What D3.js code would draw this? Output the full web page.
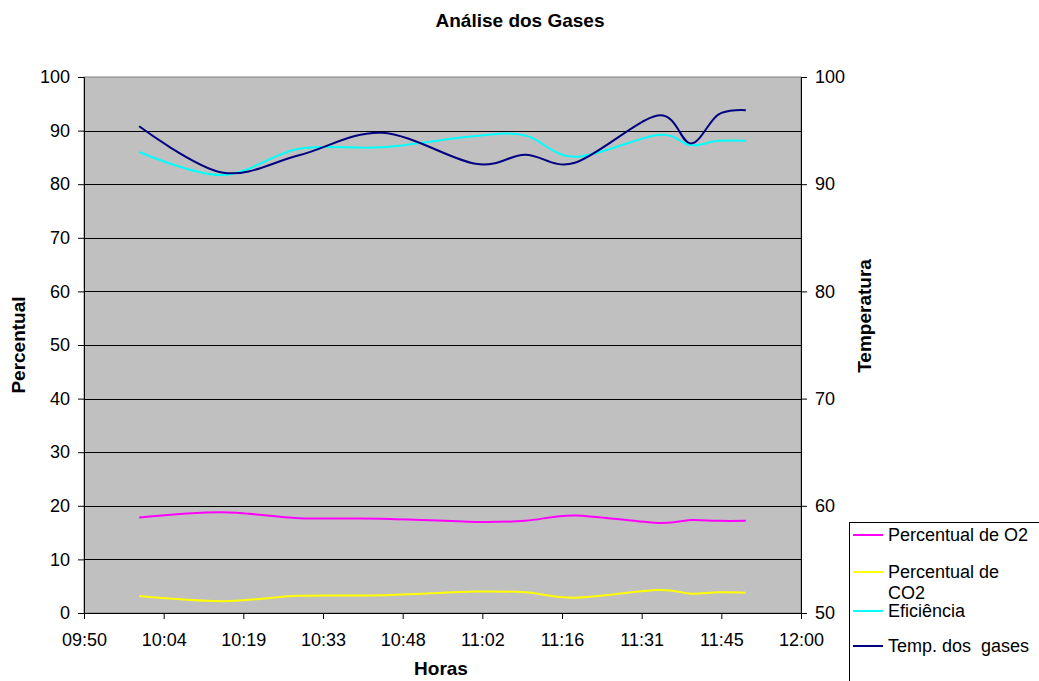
<!DOCTYPE html>
<html lang="pt">
<head>
  <meta charset="UTF-8">
  <title>Análise dos Gases</title>
  <style>
    body { margin: 0; background: #fff; }
    svg { display: block; font-family: Arial, "Liberation Sans", sans-serif; }
    .axis path, .axis line { stroke: #000; }
    .axis text { font-size: 18px; fill: #000; }
    .grid line { stroke: #000; stroke-width: 1; }
    .series { fill: none; stroke-width: 2; }
    .ttl { font-weight: bold; font-size: 19px; }
    .legend text { font-size: 18px; }
  </style>
</head>
<body>
  <script src="https://d3js.org/d3.v7.min.js"></script>
  <script>
    // leituras (hora da medição)
    const times = ['10:00', '10:15', '10:29', '10:44', '11:01', '11:10', '11:19', '11:34', '11:40', '11:45', '11:50'];
    const o2 = [17.8, 18.8, 17.7, 17.6, 17.0, 17.2, 18.2, 16.8, 17.35, 17.2, 17.2];
    const co2 = [3.15, 2.2, 3.2, 3.3, 4.0, 3.85, 2.85, 4.3, 3.6, 3.85, 3.8];
    const eficiencia = [86.0, 81.7, 86.6, 86.9, 89.0, 89.1, 85.1, 89.2, 87.3, 88.1, 88.1];
    const tempGases = [95.4, 91.1, 92.7, 94.8, 91.9, 92.75, 92.0, 96.4, 93.8, 96.5, 96.9];

    const xTickLabels = ['09:50', '10:04', '10:19', '10:33', '10:48', '11:02', '11:16', '11:31', '11:45', '12:00'];
    const leftTicks = [0, 10, 20, 30, 40, 50, 60, 70, 80, 90, 100];
    const rightTicks = [50, 60, 70, 80, 90, 100];

    const W = 1039, H = 681;
    const plot = {left: 84, right: 801, top: 77, bottom: 613};

    const parse = d3.timeParse('%H:%M');
    const t0 = parse('09:50'), t1 = parse('12:00');

    const svg = d3.select('body').append('svg')
      .attr('width', W)
      .attr('height', H);

    const x = d3.scaleTime().domain([t0, t1]).range([plot.left, plot.right]);
    const yL = d3.scaleLinear().domain([0, 100]).range([plot.bottom, plot.top]);
    const yR = d3.scaleLinear().domain([50, 100]).range([plot.bottom, plot.top]);

    // plot background
    svg.append('rect')
      .attr('x', plot.left).attr('y', plot.top)
      .attr('width', plot.right - plot.left)
      .attr('height', plot.bottom - plot.top)
      .attr('fill', '#c0c0c0')
      .attr('stroke', '#808080');

    // gridlines
    svg.append('g').attr('class', 'grid')
      .selectAll('line')
      .data(leftTicks.filter(d => d > 0 && d < 100))
      .join('line')
        .attr('x1', plot.left).attr('x2', plot.right)
        .attr('y1', d => Math.round(yL(d)) + 0.5)
        .attr('y2', d => Math.round(yL(d)) + 0.5);

    // axes
    const xTicks = xTickLabels.map((l, i) => new Date(+t0 + i * (t1 - t0) / (xTickLabels.length - 1)));
    svg.append('g').attr('class', 'axis')
      .attr('transform', `translate(0,${plot.bottom})`)
      .call(d3.axisBottom(x).tickValues(xTicks).tickSizeOuter(0).tickSize(6).tickPadding(14)
        .tickFormat((d, i) => xTickLabels[i]));

    svg.append('g').attr('class', 'axis')
      .attr('transform', `translate(${plot.left},0)`)
      .call(d3.axisLeft(yL).tickValues(leftTicks).tickSizeOuter(0).tickSize(6).tickPadding(8));

    svg.append('g').attr('class', 'axis')
      .attr('transform', `translate(${plot.right},0)`)
      .call(d3.axisRight(yR).tickValues(rightTicks).tickSizeOuter(0).tickSize(6).tickPadding(8));

    // lines
    const series = [
      {name: 'Percentual de O2', values: o2, color: '#ff00ff', y: yL},
      {name: 'Percentual de CO2', values: co2, color: '#ffff00', y: yL},
      {name: 'Eficiência', values: eficiencia, color: '#00ffff', y: yL},
      {name: 'Temp. dos  gases', values: tempGases, color: '#000080', y: yR}
    ];

    series.forEach(s => {
      const line = d3.line()
        .x((d, i) => x(parse(times[i])))
        .y(d => s.y(d))
        .curve(d3.curveCardinal.tension(0));
      svg.append('path')
        .attr('class', 'series')
        .attr('stroke', s.color)
        .attr('d', line(s.values));
    });

    // titles
    svg.append('text').attr('class', 'ttl')
      .attr('x', 520).attr('y', 27)
      .attr('text-anchor', 'middle')
      .text('Análise dos Gases');

    svg.append('text').attr('class', 'ttl')
      .attr('x', 441).attr('y', 675)
      .attr('text-anchor', 'middle')
      .text('Horas');

    svg.append('text').attr('class', 'ttl')
      .attr('transform', 'translate(25,345) rotate(-90)')
      .attr('text-anchor', 'middle')
      .text('Percentual');

    svg.append('text').attr('class', 'ttl')
      .attr('transform', 'translate(871,316) rotate(-90)')
      .attr('text-anchor', 'middle')
      .text('Temperatura');

    // legend
    const lg = svg.append('g').attr('class', 'legend');
    lg.append('rect')
      .attr('x', 849.5).attr('y', 522.5)
      .attr('width', 200).attr('height', 200)
      .attr('fill', '#fff').attr('stroke', '#000');

    const legendRows = [
      {lines: ['Percentual de O2'], y: 535},
      {lines: ['Percentual de', 'CO2'], y: 572},
      {lines: ['Eficiência'], y: 611},
      {lines: ['Temp. dos  gases'], y: 646}
    ];
    legendRows.forEach((r, i) => {
      lg.append('line')
        .attr('x1', 853).attr('x2', 883)
        .attr('y1', r.y).attr('y2', r.y)
        .attr('stroke', series[i].color).attr('stroke-width', 2);
      const t = lg.append('text')
        .attr('x', 888).attr('y', r.y + 6)
        .attr('xml:space', 'preserve')
        .style('white-space', 'pre');
      r.lines.forEach((l, j) => {
        t.append('tspan').attr('x', 888).attr('dy', j === 0 ? 0 : 21).text(l);
      });
    });
  </script>
</body>
</html>
